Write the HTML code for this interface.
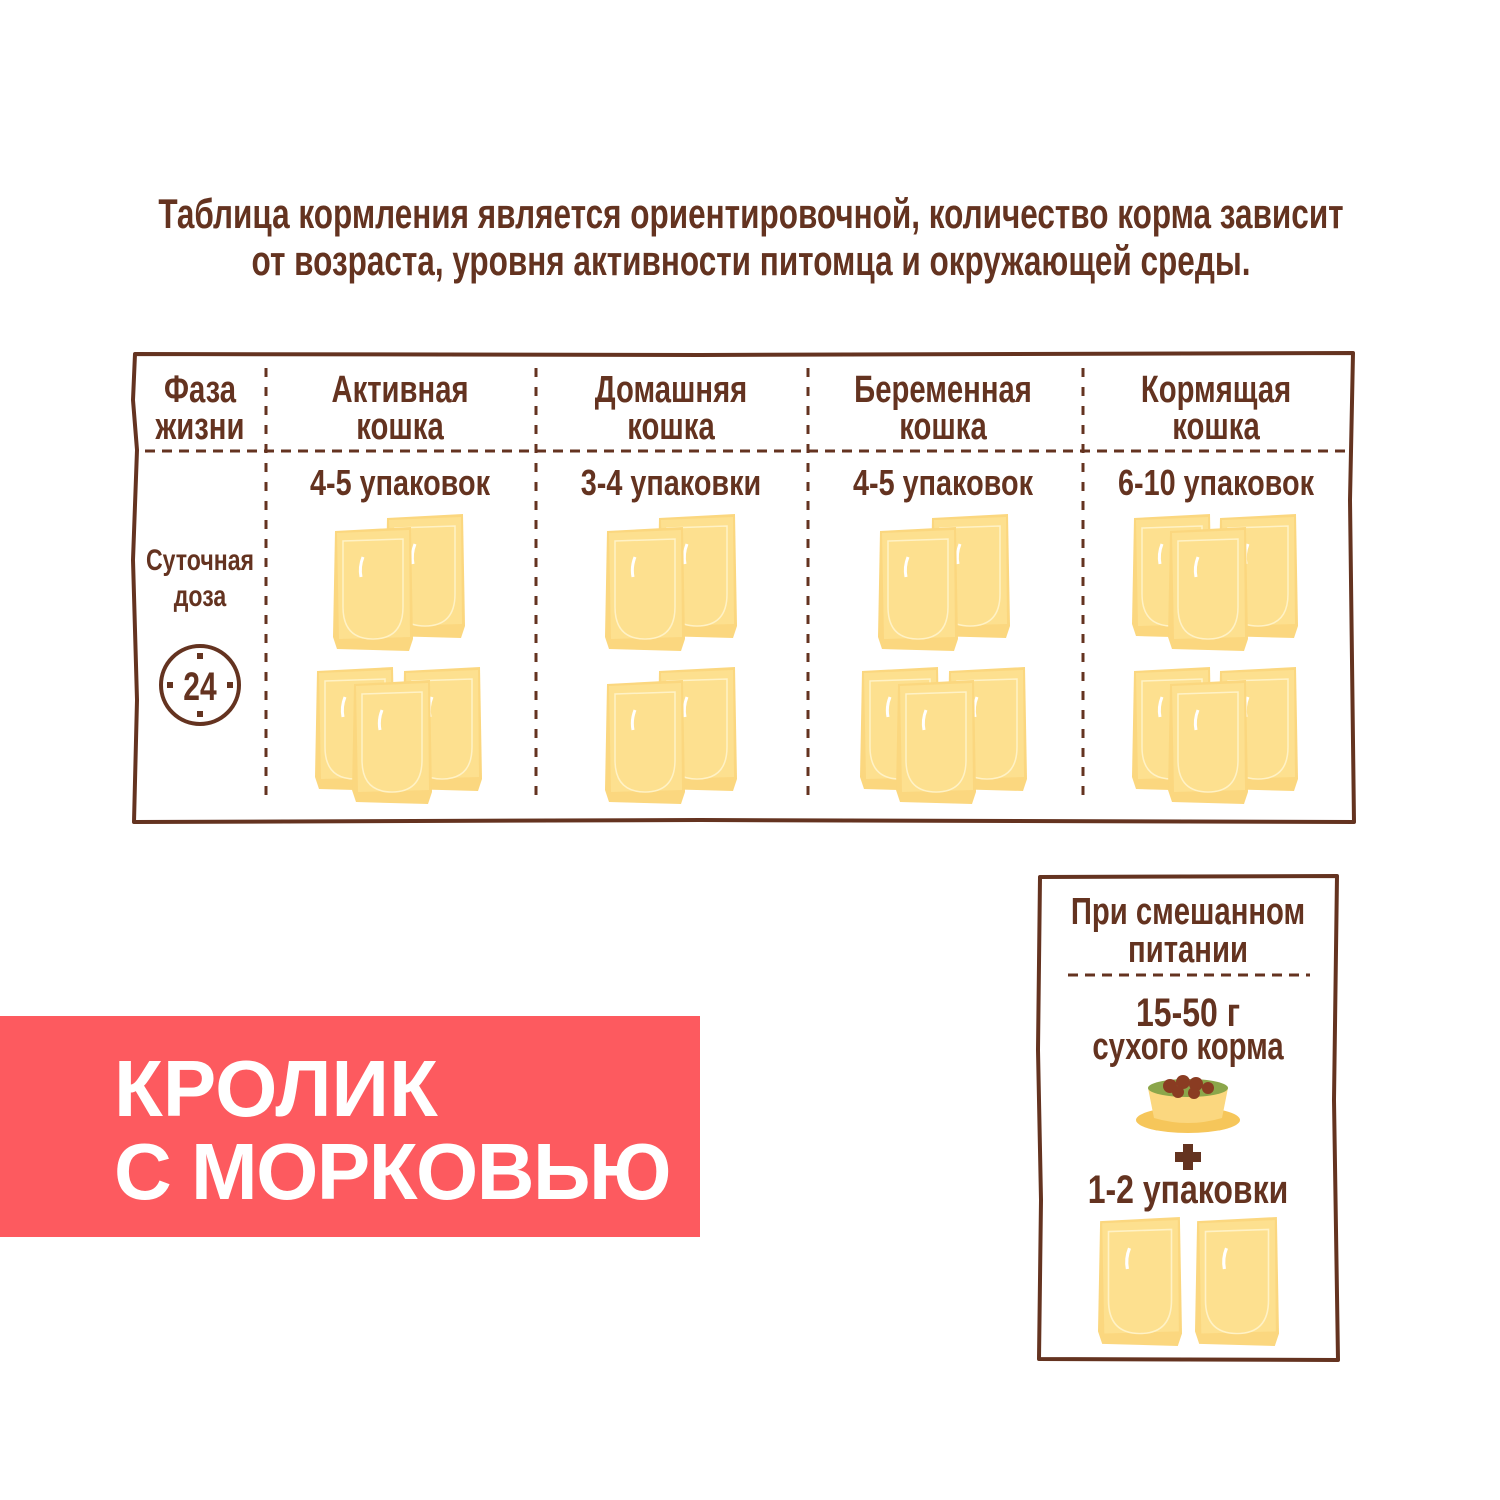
<!DOCTYPE html>
<html><head><meta charset="utf-8"><style>
body{margin:0;width:1500px;height:1500px;background:#fff;position:relative;overflow:hidden;font-family:"Liberation Sans",sans-serif}
.t{position:absolute;white-space:nowrap;font-weight:bold;color:#643320;transform:translate(-50%,0) scaleX(.77);line-height:1}
.c{transform:translate(-50%,0) scaleX(.8)}
.h{transform:translate(-50%,0) scaleX(.75)}
svg{position:absolute;left:0;top:0}
.w{position:absolute;color:#fff;font-weight:bold;font-size:80px;line-height:1;white-space:nowrap;letter-spacing:-1px}
</style></head><body>
<div style="position:absolute;left:0;top:1016px;width:700px;height:221px;background:#fd5a5f"></div>
<div class="w" style="left:114px;top:1049px;letter-spacing:0">КРОЛИК</div>
<div class="w" style="left:114px;top:1132px;letter-spacing:-1.5px">С МОРКОВЬЮ</div>

<svg width="1500" height="1500" viewBox="0 0 1500 1500">
<defs>
<g id="p">
<path d="M2 4 L78 0 L80 112 L76 124 L4 122 L0 110 Z" fill="#fbd77f"/>
<path d="M4 6 L76 3 L77 110 L6 112 Z" fill="#fde08f"/>
<path d="M10 14 L70 12 L70 80 Q70 112 40 112 Q10 112 10 80 Z" fill="none" stroke="#fff2c6" stroke-width="1.5"/>
<path d="M30 30 Q26 40 28 50" stroke="#fff" stroke-width="3" fill="none"/>
</g>
</defs>
<g fill="none" stroke="#643320" stroke-width="4" stroke-linejoin="round">
<path d="M135 354 L700 355 L1353 353 L1350 500 L1354 822 L700 820 L134 822 L137 700 L133 560 L137 450 L133 400 Z"/>
<path d="M1040 877 L1337 876 L1334 1100 L1338 1360 L1039 1359 L1041 1200 L1038 1050 Z"/>
</g>
<g stroke="#643320" stroke-width="3" stroke-dasharray="10 7">
<line x1="145" y1="451" x2="1345" y2="451"/>
<line x1="1068" y1="975" x2="1310" y2="975"/>
</g>
<g stroke="#643320" stroke-width="3" stroke-dasharray="9 10">
<line x1="266" y1="368" x2="266" y2="805"/>
<line x1="536" y1="368" x2="536" y2="805"/>
<line x1="808" y1="368" x2="808" y2="805"/>
<line x1="1083" y1="368" x2="1083" y2="805"/>
</g>
<circle cx="200" cy="685" r="39" fill="none" stroke="#643320" stroke-width="4"/>
<g fill="#643320"><rect x="197" y="653" width="6" height="6"/><rect x="197" y="711" width="6" height="6"/><rect x="167" y="682" width="6" height="6"/><rect x="227" y="682" width="6" height="6"/></g>
<text x="200" y="700" font-family="Liberation Sans" font-size="40" font-weight="bold" fill="#643320" text-anchor="middle" transform="translate(200 0) scale(.75 1) translate(-200 0)">24</text>
<use href="#p" transform="translate(385 514)"/><use href="#p" transform="translate(333 527)"/>
<use href="#p" transform="translate(315 667)"/><use href="#p" transform="translate(402 667)"/><use href="#p" transform="translate(352 680)"/>
<use href="#p" transform="translate(657 514)"/><use href="#p" transform="translate(605 527)"/>
<use href="#p" transform="translate(657 667)"/><use href="#p" transform="translate(605 680)"/>
<use href="#p" transform="translate(930 514)"/><use href="#p" transform="translate(878 527)"/>
<use href="#p" transform="translate(860 667)"/><use href="#p" transform="translate(947 667)"/><use href="#p" transform="translate(896 680)"/>
<use href="#p" transform="translate(1132 514)"/><use href="#p" transform="translate(1218 514)"/><use href="#p" transform="translate(1168 527)"/>
<use href="#p" transform="translate(1132 667)"/><use href="#p" transform="translate(1218 667)"/><use href="#p" transform="translate(1168 680)"/>
<use href="#p" transform="translate(1098 1217) scale(1.05 1.04)"/><use href="#p" transform="translate(1195 1217) scale(1.05 1.04)"/>
<ellipse cx="1188" cy="1120" rx="52" ry="13" fill="#f6c65a"/>
<path d="M1148 1088 L1228 1088 L1222 1118 Q1188 1128 1154 1118 Z" fill="#fbd77f"/>
<ellipse cx="1188" cy="1088" rx="40" ry="9" fill="#8ba64a"/>
<g fill="#8a3c22"><circle cx="1170" cy="1086" r="7"/><circle cx="1183" cy="1082" r="7"/><circle cx="1196" cy="1084" r="7"/><circle cx="1208" cy="1088" r="6"/><circle cx="1178" cy="1092" r="6"/><circle cx="1194" cy="1093" r="6"/></g>
<rect x="1183" y="1144" width="10" height="26" fill="#643320"/><rect x="1175" y="1152" width="26" height="10" fill="#643320"/>
</svg>

<div class="t h" style="left:751px;top:193px;font-size:42px">Таблица кормления является ориентировочной, количество корма зависит</div>
<div class="t h" style="left:751px;top:240px;font-size:42px">от возраста, уровня активности питомца и окружающей среды.</div>

<div class="t" style="left:200px;top:371px;font-size:38px">Фаза</div>
<div class="t" style="left:200px;top:408px;font-size:38px">жизни</div>
<div class="t" style="left:400px;top:371px;font-size:38px">Активная</div>
<div class="t" style="left:400px;top:408px;font-size:38px">кошка</div>
<div class="t" style="left:671px;top:371px;font-size:38px">Домашняя</div>
<div class="t" style="left:671px;top:408px;font-size:38px">кошка</div>
<div class="t" style="left:943px;top:371px;font-size:38px">Беременная</div>
<div class="t" style="left:943px;top:408px;font-size:38px">кошка</div>
<div class="t" style="left:1216px;top:371px;font-size:38px">Кормящая</div>
<div class="t" style="left:1216px;top:408px;font-size:38px">кошка</div>

<div class="t c" style="left:400px;top:465px;font-size:36px">4-5 упаковок</div>
<div class="t c" style="left:671px;top:465px;font-size:36px">3-4 упаковки</div>
<div class="t c" style="left:943px;top:465px;font-size:36px">4-5 упаковок</div>
<div class="t c" style="left:1216px;top:465px;font-size:36px">6-10 упаковок</div>

<div class="t" style="left:200px;top:546px;font-size:30px">Суточная</div>
<div class="t" style="left:200px;top:582px;font-size:30px">доза</div>

<div class="t" style="left:1188px;top:893px;font-size:38px">При смешанном</div>
<div class="t" style="left:1188px;top:931px;font-size:38px">питании</div>
<div class="t c" style="left:1188px;top:993px;font-size:40px">15-50 г</div>
<div class="t" style="left:1188px;top:1028px;font-size:38px">сухого корма</div>
<div class="t c" style="left:1188px;top:1170px;font-size:40px">1-2 упаковки</div>
</body></html>
